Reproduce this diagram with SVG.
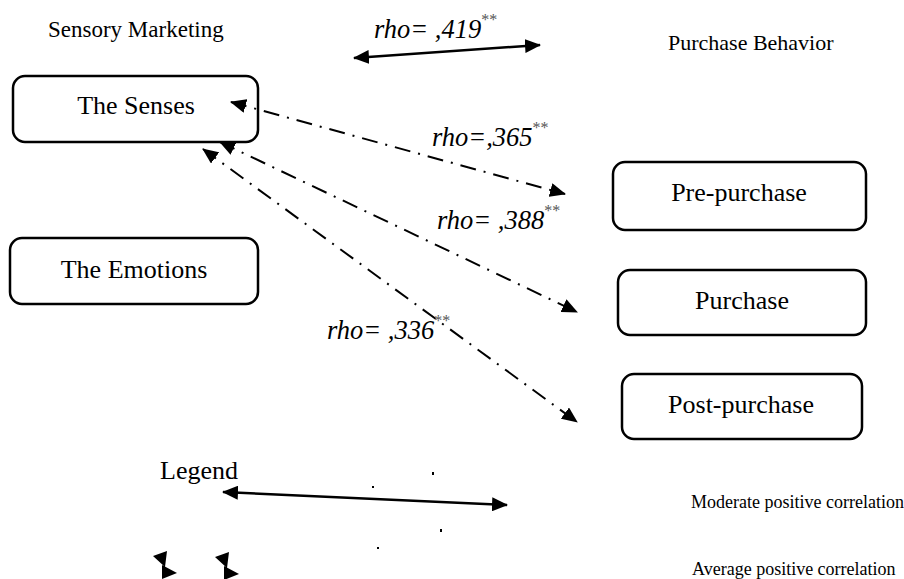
<svg xmlns="http://www.w3.org/2000/svg" width="904" height="579" viewBox="0 0 904 579">
  <style>
    .box { fill: #fff; stroke: #000; stroke-width: 2.5; }
    .label { font-family: "Liberation Serif", "Times New Roman", serif; fill: #000; }
    .node { font-size: 26px; text-anchor: middle; }
    .rho { font-family: "Liberation Serif", "Times New Roman", serif; font-style: italic; font-size: 26.5px; fill: #000; }
    .sup { font-size: 16px; fill: #555; font-style: normal; }
    .solid { stroke: #000; stroke-width: 2.5; fill: none; }
    .dashdot { stroke: #000; stroke-width: 2; fill: none; stroke-dasharray: 16 8 2 8; }
    .legend { font-size: 18px; }
  </style>
  <defs>
    <marker id="head" viewBox="0 0 16 14" markerUnits="userSpaceOnUse" markerWidth="16" markerHeight="14" refX="15" refY="7" orient="auto-start-reverse">
      <path d="M0,0 L16,7 L0,14 z" fill="#000"/>
    </marker>
  </defs>
  <rect width="904" height="579" fill="#fff"/>

  <!-- group headings -->
  <text class="label" font-size="23" x="48" y="37">Sensory Marketing</text>
  <text class="label" font-size="22" x="668" y="50">Purchase Behavior</text>

  <!-- nodes -->
  <g id="senses">
    <rect class="box" x="13" y="76" width="245" height="66" rx="12"/>
    <text class="label node" x="136" y="114">The Senses</text>
  </g>
  <g id="emotions">
    <rect class="box" x="10" y="238" width="248" height="66" rx="12"/>
    <text class="label node" x="134" y="278">The Emotions</text>
  </g>
  <g id="pre-purchase">
    <rect class="box" x="613" y="162" width="253" height="68" rx="12"/>
    <text class="label node" x="739" y="201">Pre-purchase</text>
  </g>
  <g id="purchase">
    <rect class="box" x="618" y="270" width="248" height="65" rx="12"/>
    <text class="label node" x="742" y="309">Purchase</text>
  </g>
  <g id="post-purchase">
    <rect class="box" x="622" y="374" width="240" height="65" rx="12"/>
    <text class="label node" x="741" y="413">Post-purchase</text>
  </g>

  <!-- connectors -->
  <g id="connectors">
    <line class="solid" x1="354" y1="58" x2="540" y2="45" marker-start="url(#head)" marker-end="url(#head)"/>
    <line class="dashdot" x1="231" y1="102" x2="565" y2="194" marker-start="url(#head)" marker-end="url(#head)"/>
    <line class="dashdot" x1="220" y1="142" x2="577" y2="312" marker-start="url(#head)" marker-end="url(#head)"/>
    <line class="dashdot" x1="203" y1="149" x2="577" y2="422" marker-start="url(#head)" marker-end="url(#head)"/>
  </g>

  <!-- correlation labels -->
  <text class="rho" x="374" y="38">rho= ,419<tspan class="sup" dy="-13">**</tspan></text>
  <text class="rho" x="432" y="146">rho=,365<tspan class="sup" dy="-13">**</tspan></text>
  <text class="rho" x="437" y="229">rho= ,388<tspan class="sup" dy="-13">**</tspan></text>
  <text class="rho" x="327" y="339">rho= ,336<tspan class="sup" dy="-13">**</tspan></text>

  <!-- legend -->
  <g id="legend">
    <text class="label" font-size="26" x="160" y="479">Legend</text>
    <line class="solid" x1="223" y1="492" x2="507" y2="505" marker-start="url(#head)" marker-end="url(#head)"/>
    <text class="label legend" x="691" y="508">Moderate positive correlation</text>
    <text class="label legend" x="692" y="575">Average positive correlation</text>
    <rect x="372" y="486" width="2" height="2" fill="#000"/>
    <rect x="432" y="472" width="2" height="3" fill="#000"/>
    <rect x="440" y="529" width="2" height="3" fill="#000"/>
    <rect x="377" y="547" width="2" height="2" fill="#000"/>
    <g transform="translate(153,551)">
      <path d="M0,5 L14,0 L12,16 z M9,14 L24,22 L9,28 z" fill="#000"/>
    </g>
    <g transform="translate(215,552)">
      <path d="M0,5 L14,0 L12,16 z M9,14 L24,22 L9,28 z" fill="#000"/>
    </g>
  </g>
</svg>
